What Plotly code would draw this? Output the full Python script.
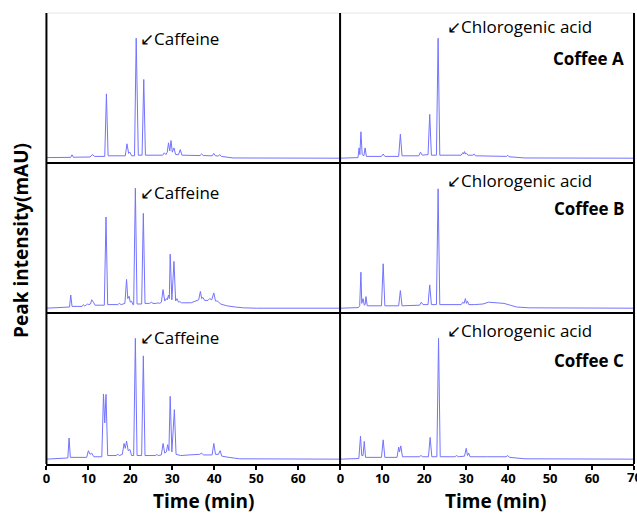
import plotly.graph_objects as go

W, H = 637, 513

# ---- data: chromatogram traces (time in min, intensity in relative mAU) ----
a_left_t = [0, 5.8, 6.1, 6.4, 10.4, 10.9, 11.5, 13.9, 14.3, 14.7, 18.8, 19.2, 19.6, 19.9, 20.3, 21.0, 21.4, 21.9,
            22.8, 23.2, 23.6, 27.7, 28.1, 28.5, 28.8, 29.1, 29.4, 29.7, 30.0, 30.4, 30.8, 31.5, 31.9, 32.3,
            36.6, 37.0, 37.4, 39.5, 39.9, 40.3, 41.0, 41.3, 41.7, 44.5, 70]
a_left_y = [0.5, 0.7, 2.8, 0.8, 1, 3, 1.5, 1.5, 53.6, 2, 2, 12, 4, 5, 2, 2, 100, 2.5,
            2.5, 65.6, 2.5, 2.5, 4.5, 3, 5, 12.8, 6, 14.7, 5, 8.6, 3, 3, 7.2, 2.5,
            2.2, 3.5, 2.2, 2, 4, 2, 1.8, 3, 1.5, 0.2, 0]

a_right_t = [0, 4.2, 4.46, 4.65, 4.9, 5.2, 5.6, 5.9, 6.2, 9.8, 10.2, 10.6, 13.9, 14.3, 14.7, 18.7, 19.1, 19.5,
             20.9, 21.3, 21.7, 22.9, 23.3, 23.7, 28.8, 29.2, 29.4, 29.6, 29.85, 30.1, 30.4, 31.6, 31.9, 32.2,
             39.6, 39.9, 40.2, 44, 70]
a_right_y = [0, 0.5, 8.6, 3, 22, 3, 2, 8.6, 1.5, 1.5, 3.5, 1.5, 1.5, 20, 2, 2, 5, 2.5,
             3, 36.5, 2.5, 2.5, 100, 2.5, 2.5, 4.7, 3.5, 5.5, 3.5, 4, 2.5, 2.5, 3.5, 2,
             1.5, 2.5, 1.2, 0.2, 0]

b_left_t = [0, 4.5, 5.5, 5.8, 6.1, 8.5, 8.8, 9.1, 9.5, 9.8, 10.1, 10.5, 10.8, 11.2, 11.6, 13.8, 14.2, 14.6,
            17.0, 17.4, 17.8, 18.7, 19.1, 19.4, 19.7, 20.0, 20.3, 20.6, 20.8, 21.2, 21.6, 22.7, 23.1, 23.5,
            24.6, 25.0, 25.4, 26.2, 26.6, 27.0, 27.4, 27.8, 28.2, 28.6, 28.8, 29.1, 29.3, 29.5, 29.9, 30.4,
            30.8, 31.1, 31.5, 31.8, 32.2, 34.5, 35.5, 36.3, 36.7, 37.0, 37.3, 37.7, 38.5, 38.9, 39.4, 39.9,
            40.3, 40.8, 41.5, 43, 45, 47, 50, 70]
b_left_y = [0, 0.5, 1, 11, 1.5, 1.5, 3, 2, 2.5, 3.6, 3, 3.5, 7, 5, 2.5, 2.5, 76, 3,
            3, 4, 3, 4, 24, 8, 10, 5, 6, 3, 3, 100, 3.5, 3.5, 79, 4,
            4, 5, 4, 4, 4.5, 4, 5, 15.5, 6, 8, 7, 11, 8, 45, 7, 39,
            6, 8, 5, 5.5, 4.5, 4.5, 6, 7, 14, 8, 9, 6.5, 6.5, 8, 7, 12.7,
            6, 6, 3.5, 2, 1, 0.3, 0, 0]

b_right_t = [0, 4.3, 4.6, 4.9, 5.1, 5.4, 5.7, 5.9, 6.1, 6.4, 9.8, 10.2, 10.6, 13.9, 14.3, 14.7, 18.9, 19.3,
             19.7, 20.9, 21.3, 21.7, 22.9, 23.3, 23.7, 28.8, 29.2, 29.5, 29.8, 30.05, 30.3, 30.6, 32, 34,
             35.3, 37, 39, 40.5, 42, 45, 70]
b_right_y = [0, 0.5, 2, 30, 4, 8, 2.5, 3, 9.7, 2, 2, 37, 2, 2, 14.7, 2, 2.5, 5,
             3, 3, 19.4, 3, 3, 99.5, 3, 3, 5, 4, 8, 4, 6, 3, 3, 3.5,
             5, 4.5, 4, 2.5, 1, 0.3, 0]

c_left_t = [0, 4.5, 5.1, 5.4, 5.7, 9.6, 10.0, 10.4, 10.8, 11.3, 13.2, 13.6, 13.9, 14.2, 14.6, 16.6, 17.0, 17.4,
            18.1, 18.5, 18.8, 19.1, 19.5, 19.9, 20.3, 20.8, 21.2, 21.6, 22.7, 23.1, 23.5, 25.9, 26.3, 26.7,
            27.4, 27.8, 28.2, 28.6, 28.9, 29.2, 29.5, 29.9, 30.5, 30.9, 32, 34, 36.5, 37, 37.4, 39.5,
            39.9, 40.3, 41.0, 41.4, 41.8, 43.5, 46, 70]
c_left_y = [0, 0.5, 1, 17.5, 1.5, 1.5, 7, 4, 5, 2, 2, 54, 30, 53.6, 3, 3, 4, 3,
            4, 13, 9, 15, 7, 8, 3, 3, 100, 3, 3, 85.5, 3, 3, 3.8, 3,
            3.5, 13, 5, 6, 12, 7, 52, 6, 41, 4, 3, 3.5, 4, 5, 3.5, 3.5,
            13, 4, 4, 7, 2.5, 1.5, 0.3, 0]

c_right_t = [0, 4.4, 4.8, 5.1, 5.4, 5.7, 6.0, 9.8, 10.2, 10.6, 13.5, 13.9, 14.1, 14.4, 14.8, 18.8, 19.2, 19.6,
             21.0, 21.4, 21.8, 23.0, 23.4, 23.8, 27.3, 27.7, 28.1, 29.6, 30.0, 30.3, 30.6, 30.9, 35, 39.5,
             39.9, 40.3, 44, 70]
c_right_y = [0, 0.5, 19, 3, 3, 14.7, 1.5, 1.5, 16, 1.5, 1.5, 10, 6, 11, 2, 2, 3, 2,
             2, 18, 2, 2, 100, 2, 2, 3, 2, 2.5, 9, 3, 5, 2, 2, 2,
             3, 1.5, 0.3, 0]

sample_names = ["Coffee A", "Coffee B", "Coffee C"]
left_label = "↙Caffeine"
right_label = "↙Chlorogenic acid"
x_ticks_left = [0, 10, 20, 30, 40, 50, 60, 70]
x_tick_text_left = ["0", "10", "20", "30", "40", "50", "60", ""]
x_ticks_right = [0, 10, 20, 30, 40, 50, 60, 70]
x_tick_text_right = ["0", "10", "20", "30", "40", "50", "60", ""]
edge_tick_label = "70"

traces = [
    (a_left_t, a_left_y), (a_right_t, a_right_y),
    (b_left_t, b_left_y), (b_right_t, b_right_y),
    (c_left_t, c_left_y), (c_right_t, c_right_y),
]

# ---- layout geometry (pixels) ----
col_px = [(42.7, 338.2), (338.5, 634.0)]
row_px = [(13, 163), (163, 313), (313, 464)]


def px(x):
    return x / W


def py(y):
    return 1 - y / H


LINE_COLOR = "#7373ff"
FONT = "Open Sans"

fig = go.Figure()
layout = dict(
    width=W, height=H, margin=dict(l=0, r=0, t=0, b=0, pad=0),
    paper_bgcolor="white", plot_bgcolor="white", showlegend=False,
    font=dict(family=FONT, color="black"),
)

for i, (t, y) in enumerate(traces):
    r, c = divmod(i, 2)
    idx = i + 1
    xa = "x" if idx == 1 else f"x{idx}"
    ya = "y" if idx == 1 else f"y{idx}"
    fig.add_trace(go.Scatter(x=t, y=y, mode="lines", xaxis=xa, yaxis=ya,
                             line=dict(color=LINE_COLOR, width=1), hoverinfo="skip"))
    x0, x1 = col_px[c]
    y0, y1 = row_px[r]
    bottom = r == 2
    xkey = "xaxis" if idx == 1 else f"xaxis{idx}"
    ykey = "yaxis" if idx == 1 else f"yaxis{idx}"
    layout[xkey] = dict(
        domain=[px(x0), px(x1)], range=[0, 70], anchor=ya,
        showgrid=False, zeroline=False,
        showline=bottom, linecolor="black", linewidth=2,
        ticks="outside" if bottom else "", ticklen=4, tickwidth=2, tickcolor="black",
        tickvals=(x_ticks_left if c == 0 else x_ticks_right) if bottom else [],
        ticktext=(x_tick_text_left if c == 0 else x_tick_text_right) if bottom else [],
        showticklabels=bottom, ticklabelstandoff=-3,
        tickfont=dict(family=FONT, size=13, color="black", weight="bold"),
    )
    layout[ykey] = dict(
        domain=[py(y1), py(y0)], range=[-4, 121], anchor=xa,
        showgrid=False, zeroline=False, showline=False, showticklabels=False, ticks="",
    )

shapes = []
# top faint border
shapes.append(dict(type="line", xref="paper", yref="paper", x0=px(44), x1=px(634), y0=py(13), y1=py(13),
                   line=dict(color="#e6e6e6", width=1)))
# vertical frame lines
for xv in (42.7, 338.2, 634.0):
    shapes.append(dict(type="line", xref="paper", yref="paper", x0=px(xv), x1=px(xv), y0=py(13), y1=py(464),
                       line=dict(color="black", width=2)))
# horizontal separators
for yv in (163, 313):
    shapes.append(dict(type="line", xref="paper", yref="paper", x0=px(42.7), x1=px(634), y0=py(yv), y1=py(yv),
                       line=dict(color="black", width=2)))
layout["shapes"] = shapes

annotations = []
cafe_y = [38, 192, 337]
chloro_y = [27, 180, 330]
name_y = [58, 208, 360]
for r in range(3):
    annotations.append(dict(text=left_label, xref="paper", yref="paper", x=px(135), y=py(cafe_y[r]),
                            xanchor="left", yanchor="middle", showarrow=False,
                            font=dict(family=FONT, size=17, color="black")))
    annotations.append(dict(text=right_label, xref="paper", yref="paper", x=px(444), y=py(chloro_y[r]),
                            xanchor="left", yanchor="middle", showarrow=False,
                            font=dict(family=FONT, size=17, color="black")))
    annotations.append(dict(text=sample_names[r], xref="paper", yref="paper", x=px(626), y=py(name_y[r]),
                            xanchor="right", yanchor="middle", showarrow=False,
                            font=dict(family=FONT, size=17, color="black", weight="bold")))
# clipped "70" at right edge
annotations.append(dict(text=edge_tick_label, xref="paper", yref="paper", x=px(634), y=py(477),
                        xanchor="center", yanchor="middle", showarrow=False,
                        font=dict(family=FONT, size=13, color="black", weight="bold")))
# axis titles
annotations.append(dict(text="Peak intensity(mAU)", xref="paper", yref="paper", x=px(17), y=py(240),
                        xanchor="center", yanchor="middle", textangle=-90, showarrow=False,
                        font=dict(family=FONT, size=19, color="black", weight="bold")))
for cx in (201, 495):
    annotations.append(dict(text="Time (min)", xref="paper", yref="paper", x=px(cx), y=py(501),
                            xanchor="center", yanchor="middle", showarrow=False,
                            font=dict(family=FONT, size=19, color="black", weight="bold")))
layout["annotations"] = annotations

fig.update_layout(**layout)
fig.write_html(
    "out.html",
    config={"displayModeBar": False},
    post_script="document.body.style.margin='0px';document.body.style.padding='0px';"
                "document.documentElement.style.overflow='hidden';",
)
